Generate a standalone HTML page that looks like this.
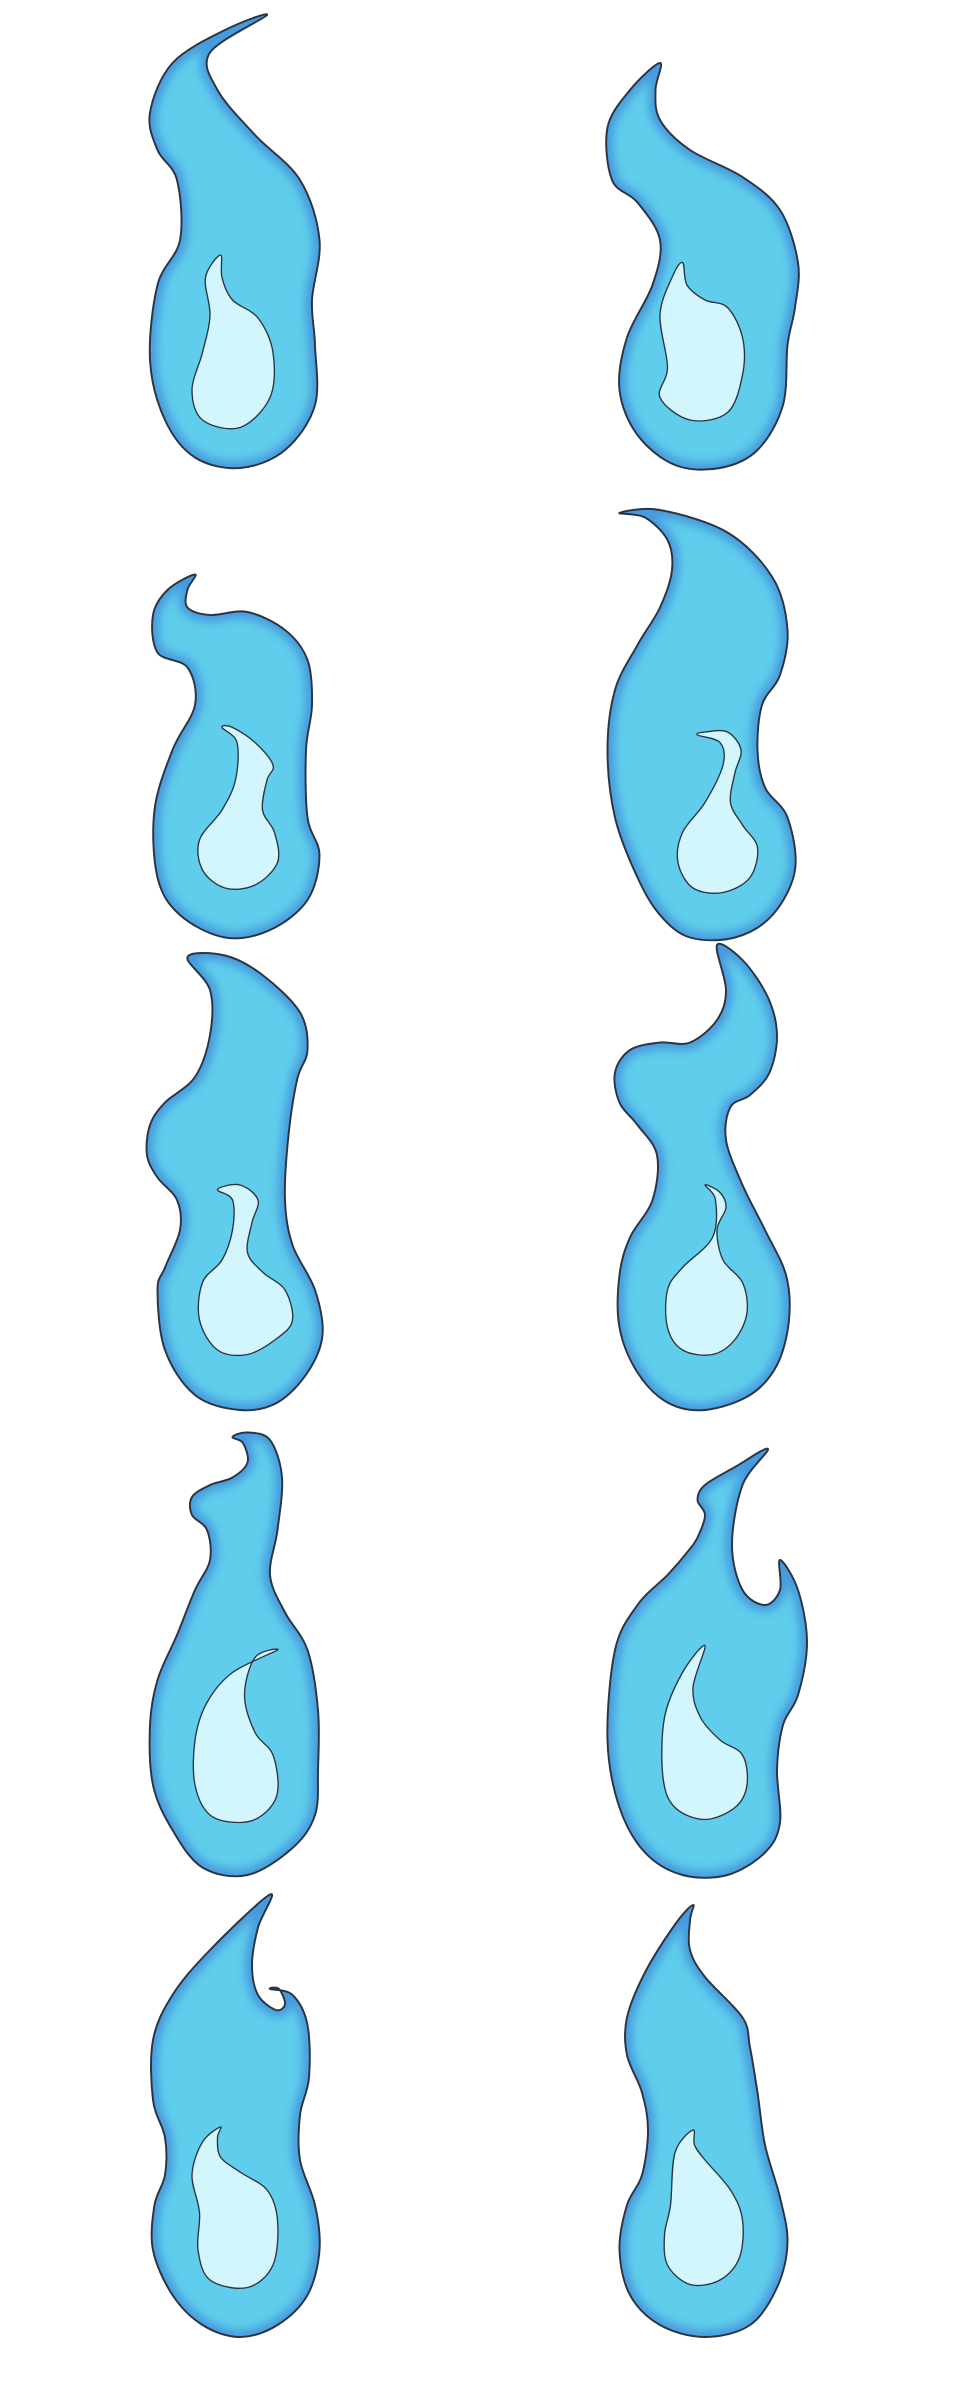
<!DOCTYPE html>
<html><head><meta charset="utf-8"><style>html,body{margin:0;padding:0;background:#fff}svg{display:block}</style></head>
<body>
<svg id="art" width="960" height="2400" viewBox="0 0 640 1600" xmlns="http://www.w3.org/2000/svg">
<defs>
<filter id="blur" x="-20%" y="-20%" width="140%" height="140%"><feGaussianBlur stdDeviation="3"/></filter>
</defs>
<g id="flames"></g>
</svg>
<script>
const outers=[
[[178,10],[150,20],[115,42],[100,75],[105,100],[118,120],[120,160],[105,190],[100,240],[110,280],[130,305],[160,312],[190,300],[210,270],[210,230],[208,200],[213,160],[200,120],[170,90],[145,60],[140,35]],
[[440,42],[420,60],[405,85],[408,120],[425,135],[440,160],[435,190],[418,225],[413,260],[425,290],[450,310],[480,312],[505,300],[522,270],[525,230],[530,205],[532,175],[520,140],[495,118],[460,100],[440,80],[437,60]],
[[130,383],[112,393],[102,410],[105,435],[125,445],[130,470],[115,500],[103,540],[105,585],[120,610],[150,625],[180,620],[205,600],[213,570],[205,545],[204,500],[208,470],[205,440],[190,420],[165,408],[140,410],[125,405],[125,393]],
[[413,342],[440,340],[485,355],[515,385],[525,420],[520,450],[508,470],[505,500],[510,525],[525,545],[530,580],[515,610],[490,625],[460,625],[440,610],[425,585],[410,545],[405,500],[410,460],[425,430],[440,405],[448,380],[445,360],[430,345]],
[[125,638],[150,637],[175,650],[200,675],[205,700],[198,720],[192,760],[190,800],[195,830],[210,860],[215,890],[205,915],[185,935],[160,940],[130,930],[110,900],[105,860],[110,845],[120,820],[118,800],[105,785],[98,770],[100,750],[110,735],[130,718],[140,690],[140,660]],
[[478,630],[495,640],[512,665],[518,690],[513,715],[500,730],[487,738],[484,760],[495,790],[510,820],[524,850],[526,880],[518,910],[500,930],[470,940],[445,935],[425,915],[413,885],[413,850],[420,825],[435,800],[438,770],[425,750],[413,735],[410,715],[420,700],[440,695],[460,695],[478,680],[484,660]],
[[155,958],[165,955],[180,960],[188,985],[185,1020],[180,1050],[190,1075],[205,1100],[212,1140],[212,1180],[210,1210],[195,1232],[165,1250],[135,1245],[115,1220],[102,1190],[100,1150],[105,1120],[118,1090],[130,1060],[140,1040],[138,1020],[128,1010],[128,998],[140,990],[155,985],[165,975],[162,962]],
[[512,966],[495,990],[488,1030],[495,1060],[510,1070],[520,1060],[520,1040],[532,1060],[538,1095],[532,1130],[522,1150],[518,1180],[520,1215],[510,1235],[485,1250],[455,1250],[430,1235],[413,1205],[405,1160],[410,1100],[425,1070],[445,1050],[458,1035],[465,1025],[470,1010],[465,1000],[470,990],[490,978]],
[[180,1263],[172,1285],[168,1310],[172,1330],[184,1340],[190,1336],[186,1326],[180,1326],[195,1330],[205,1350],[206,1385],[200,1410],[200,1440],[210,1470],[213,1500],[205,1530],[185,1550],[160,1558],[135,1550],[115,1530],[102,1500],[103,1470],[110,1450],[110,1425],[102,1400],[102,1360],[115,1330],[140,1300]],
[[462,1270],[450,1283],[430,1315],[418,1345],[418,1370],[428,1395],[432,1420],[428,1450],[418,1470],[413,1500],[420,1530],[440,1550],[470,1558],[500,1550],[518,1525],[525,1495],[520,1465],[510,1430],[505,1395],[500,1365],[495,1345],[470,1318],[460,1300],[460,1280]]
];
const inners=[
[[147,170],[137,185],[140,210],[135,235],[128,260],[135,280],[160,285],[180,265],[182,235],[172,212],[155,200],[148,185]],
[[455,175],[448,185],[440,210],[445,245],[440,265],[460,280],[485,275],[495,250],[495,225],[485,205],[470,200],[458,190]],
[[148,485],[158,495],[157,520],[148,540],[133,560],[135,580],[150,592],[170,590],[185,575],[183,555],[175,540],[178,520],[182,510],[170,495],[155,485]],
[[465,490],[480,495],[482,510],[470,535],[455,555],[452,575],[462,592],[482,595],[500,585],[505,565],[495,550],[487,535],[490,515],[494,500],[485,488],[470,488]],
[[145,793],[155,800],[155,820],[148,840],[135,855],[133,880],[145,900],[165,903],[185,892],[195,880],[190,860],[175,848],[165,835],[168,815],[172,800],[160,790]],
[[470,790],[477,800],[475,825],[455,845],[445,860],[445,885],[455,900],[475,903],[490,893],[498,875],[495,855],[482,840],[478,820],[484,805],[480,795]],
[[185,1100],[170,1105],[163,1130],[170,1155],[182,1170],[185,1195],[175,1210],[160,1215],[140,1210],[130,1190],[130,1160],[138,1135],[155,1115]],
[[470,1097],[455,1115],[443,1145],[442,1185],[450,1205],[470,1213],[490,1205],[498,1190],[495,1170],[480,1160],[467,1145],[462,1125]],
[[147,1418],[135,1428],[128,1450],[133,1475],[132,1500],[140,1520],[165,1525],[182,1510],[185,1480],[178,1460],[160,1448],[147,1438],[145,1425]],
[[462,1420],[450,1435],[447,1470],[443,1490],[445,1510],[460,1523],[480,1520],[493,1505],[495,1480],[487,1460],[470,1440],[463,1430]]
];
function smooth(p){const n=p.length;let d=`M${p[0][0]},${p[0][1]}`;
for(let i=0;i<n;i++){const p0=p[(i-1+n)%n],p1=p[i],p2=p[(i+1)%n],p3=p[(i+2)%n];
const c1=[p1[0]+(p2[0]-p0[0])/6,p1[1]+(p2[1]-p0[1])/6],c2=[p2[0]-(p3[0]-p1[0])/6,p2[1]-(p3[1]-p1[1])/6];
d+=`C${c1[0].toFixed(1)},${c1[1].toFixed(1)} ${c2[0].toFixed(1)},${c2[1].toFixed(1)} ${p2[0]},${p2[1]}`;}
return d+'Z';}
const svg=document.getElementById('art');const defs=svg.querySelector('defs');
const g=document.getElementById('flames');const NS='http://www.w3.org/2000/svg';
outers.forEach((o,i)=>{
const d=smooth(o);
const cp=document.createElementNS(NS,'clipPath');cp.setAttribute('id','c'+i);
const cpp=document.createElementNS(NS,'path');cpp.setAttribute('d',d);cp.appendChild(cpp);defs.appendChild(cp);
const grp=document.createElementNS(NS,'g');


const a=document.createElementNS(NS,'path');


a.setAttribute('d',d);a.setAttribute('fill','#5fcdeb');
grp.appendChild(a);
const glow=document.createElementNS(NS,'path');


glow.setAttribute('d',d);glow.setAttribute('fill','none');glow.setAttribute('stroke','#3f88d8');glow.setAttribute('stroke-width','9');glow.setAttribute('stroke-opacity','0.75');glow.setAttribute('filter','url(#blur)');glow.setAttribute('clip-path','url(#c'+i+')');
grp.appendChild(glow);
const ol=document.createElementNS(NS,'path');


ol.setAttribute('d',d);ol.setAttribute('fill','none');ol.setAttribute('stroke','#2b3440');ol.setAttribute('stroke-width','1.3');
grp.appendChild(ol);
const b=document.createElementNS(NS,'path');


b.setAttribute('d',smooth(inners[i]));b.setAttribute('fill','#d2f6fc');b.setAttribute('stroke','#2b3440');b.setAttribute('stroke-width','0.9');
grp.appendChild(b);
g.appendChild(grp);});
</script>
</body></html>
